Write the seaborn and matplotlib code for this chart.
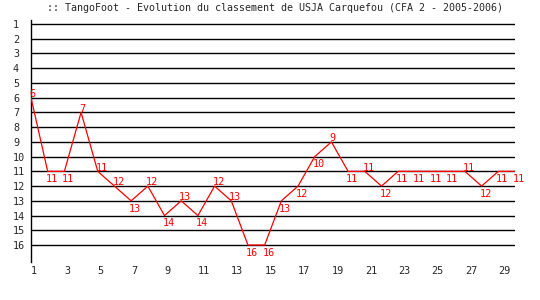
import matplotlib
matplotlib.use("Agg")
import matplotlib.pyplot as plt
import seaborn as sns
import pandas as pd

title = ":: TangoFoot - Evolution du classement de USJA Carquefou (CFA 2 - 2005-2006)"
rounds = list(range(1, 31))
ranks = [6, 11, 11, 7, 11, 12, 13, 12, 14, 13, 14, 12, 13, 16, 16,
         13, 12, 10, 9, 11, 11, 12, 11, 11, 11, 11, 11, 12, 11, 11]
label_above = [1, 0, 0, 1, 1, 1, 0, 1, 0, 1, 0, 1, 1, 0, 0,
               0, 0, 0, 1, 0, 1, 0, 0, 0, 0, 0, 1, 0, 0, 0]
y_ticks = list(range(1, 17))
x_ticks = list(range(1, 30, 2))

sns.set_style("white")
plt.rcParams['font.family'] = ['DejaVu Sans Mono']

df = pd.DataFrame({"round": rounds, "rank": ranks})

fig = plt.figure(figsize=(5.4, 3.0), dpi=100)
ax = fig.add_axes([31/540, 1-262/300, 484/540, 242/300])

for r in y_ticks:
    ax.axhline(r, color="black", lw=1.0, zorder=1)

sns.lineplot(data=df, x="round", y="rank", color="red", lw=0.9, ax=ax, zorder=3)

for x, y, a in zip(rounds, ranks, label_above):
    if a:
        ax.annotate(str(y), (x, y), xytext=(-1.5, -1), textcoords="offset points",
                    ha="left", va="bottom", color="red", fontsize=7.3)
    else:
        ax.annotate(str(y), (x, y), xytext=(-1.5, -2), textcoords="offset points",
                    ha="left", va="top", color="red", fontsize=7.3)

ax.set_xlim(1, 30)
ax.set_ylim(17.15, 0.73)
ax.set_yticks(y_ticks)
ax.set_yticklabels([str(v) for v in y_ticks], fontsize=7.3, ha="left")
ax.set_xticks(x_ticks)
ax.set_xticklabels([str(v) for v in x_ticks], fontsize=7.3, ha="left")
ax.tick_params(axis="both", length=0, pad=3)
ax.tick_params(axis="y", pad=13)
ax.set_xlabel("")
ax.set_ylabel("")
for s in ["top", "right", "bottom"]:
    ax.spines[s].set_visible(False)
ax.spines["left"].set_color("black")
ax.spines["left"].set_linewidth(1.0)

fig.text(275/540, 1-8/300, title, ha="center", va="center", fontsize=7.2)

fig.savefig("out.png", dpi=100)
